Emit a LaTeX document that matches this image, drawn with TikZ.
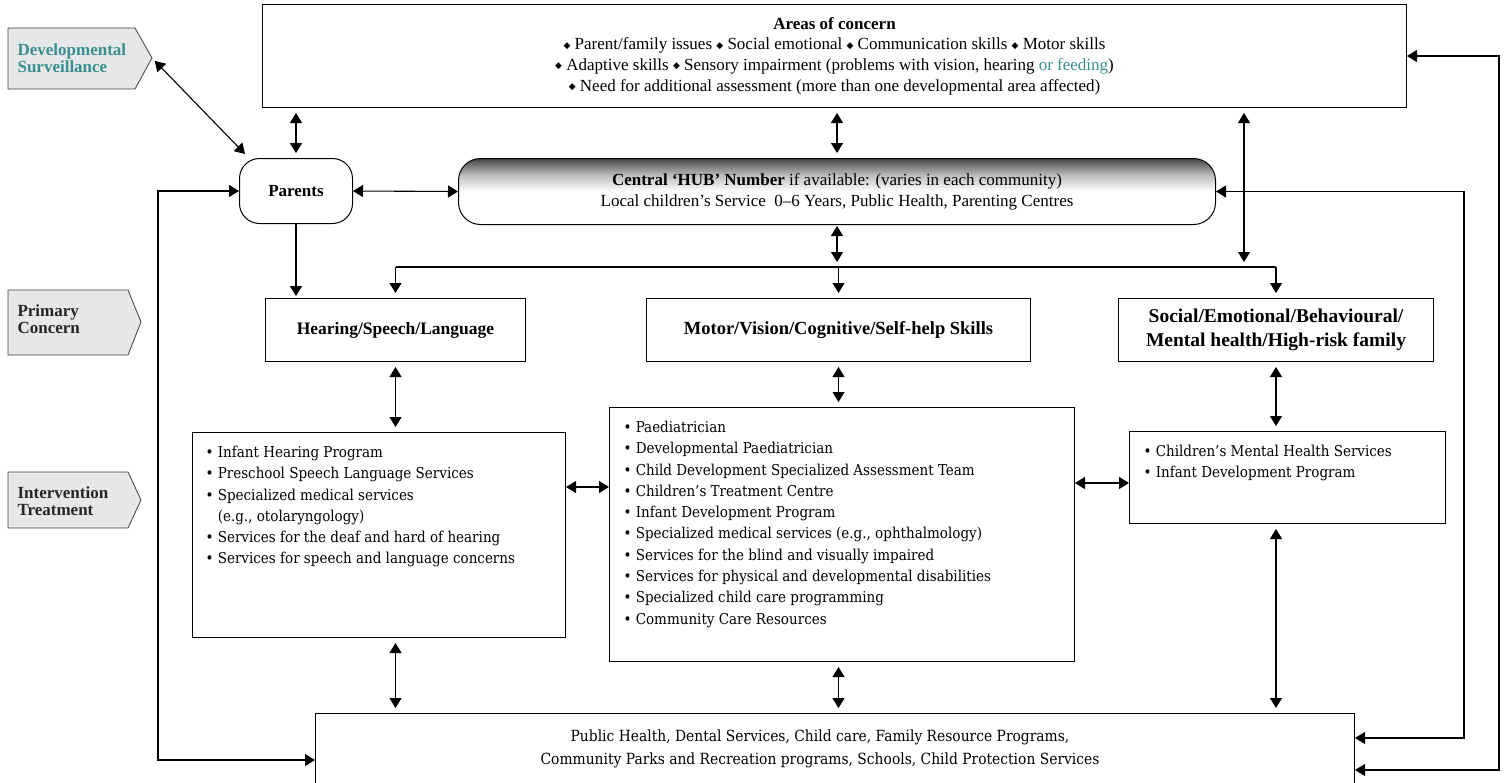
\documentclass[tikz,border=0pt]{standalone}
\usepackage{fontspec}
\setmainfont{Liberation Serif}
\newfontfamily\listfont{DejaVu Serif Condensed}
\newfontfamily\symfont{DejaVu Sans}
\usetikzlibrary{arrows.meta,positioning,calc}

\definecolor{tealtxt}{RGB}{58,143,143}
\definecolor{tagfill}{RGB}{230,231,232}

% shading of the hub box: dark at the top, white from the middle down
\pgfdeclareverticalshading{hubshade}{100bp}{color(0bp)=(white); color(25bp)=(white);
    color(50bp)=(white); color(62bp)=(black!25); color(75bp)=(black!72); color(100bp)=(black!72)}

% small diamond and bullet
\newcommand{\dia}{{\symfont\fontsize{9}{9}\selectfont\raisebox{1.6pt}{◆}}}
\newcommand{\bul}{•}

\begin{document}
\begin{tikzpicture}[x=1pt,y=-1pt,
    >={Triangle[length=10pt,width=12pt]},
    line width=1.1pt,
    box/.style={draw,line width=1pt,inner sep=0pt,anchor=north west},
    bold/.style={font=\fontsize{17}{20}\selectfont\bfseries,align=center},
    toptext/.style={font=\fontsize{17}{20.7}\selectfont,align=center,inner sep=0pt},
    listtext/.style={font=\listfont\fontsize{15}{21.3}\selectfont,inner sep=0pt,anchor=north west},
    tagshape/.style={draw=black!75,line width=0.8pt,fill=tagfill},
    tagtext/.style={font=\fontsize{17}{17}\selectfont\bfseries,align=left,anchor=west,inner sep=0pt},
    gap/.style={shorten <=5pt,shorten >=5pt}]
    \useasboundingbox (0,0) rectangle (1504,782);

    % tags on the left
    \draw[tagshape] (8,28) -- (135,28) -- (152,58) -- (135,89) -- (8,89) -- cycle;
    \node[tagtext,text=tealtxt] (devtag) at (17,58) {Developmental\\Surveillance};
    \draw[tagshape] (8,290) -- (128,290) -- (141,322) -- (128,355) -- (8,355) -- cycle;
    \node[tagtext,text=black!85] (primtag) at (17,319) {Primary\\Concern};
    \draw[tagshape] (8,472) -- (128,472) -- (141,500) -- (128,528) -- (8,528) -- cycle;
    \node[tagtext,text=black!85] (inttag) at (17,501) {Intervention\\Treatment};
    \coordinate (devtip) at (152,58);

    % areas of concern
    \node[box,minimum width=1144pt,minimum height=103pt] (areas) at (262,4) {};
    \node[toptext] (areastext) at (areas.center) {\textbf{Areas of concern}\\
        \dia\ Parent/family issues \dia\ Social emotional \dia\ Communication skills \dia\ Motor skills\\
        \dia\ Adaptive skills \dia\ Sensory impairment (problems with vision, hearing \textcolor{tealtxt}{or feeding})\\
        \dia\ Need for additional assessment (more than one developmental area affected)};

    % parents and hub
    \node[box,rounded corners=20pt,minimum width=113pt,minimum height=65pt,bold] (parents) at (239,158) {Parents};
    \node[box,rounded corners=22pt,minimum width=757pt,minimum height=66pt,
        shading=hubshade,toptext] (hub) at (458,158)
        {\textbf{Central ‘HUB’ Number} if available: (varies in each community)\\
         Local children’s Service\ \ 0–6 Years, Public Health, Parenting Centres};

    % primary concern
    \node[box,minimum width=260pt,minimum height=63pt,bold,font=\fontsize{17.5}{20}\selectfont\bfseries] (hear) at (265,298)
        {Hearing/Speech/Language};
    \node[box,minimum width=384pt,minimum height=63pt,bold,font=\fontsize{18.5}{20}\selectfont\bfseries] (motor) at (646,298)
        {Motor/Vision/Cognitive/Self-help Skills};
    \node[box,minimum width=315pt,minimum height=63pt,bold,font=\fontsize{19.5}{24}\selectfont\bfseries] (social) at (1118,298)
        {Social/Emotional/Behavioural/\\Mental health/High-risk family};

    % intervention lists
    \node[box,minimum width=373pt,minimum height=205pt] (hearlist) at (192,432) {};
    \node[listtext] (heartext) at ($(hearlist.north west)+(13,10)$) {%
        \begin{tabular}{@{}l@{\ }l@{}}
        \bul & Infant Hearing Program\\
        \bul & Preschool Speech Language Services\\
        \bul & Specialized medical services\\
             & (e.g., otolaryngology)\\
        \bul & Services for the deaf and hard of hearing\\
        \bul & Services for speech and language concerns
        \end{tabular}};
    \node[box,minimum width=465pt,minimum height=254pt] (motorlist) at (609,407) {};
    \node[listtext] (motortext) at ($(motorlist.north west)+(14,10)$) {%
        \begin{tabular}{@{}l@{\ }l@{}}
        \bul & Paediatrician\\
        \bul & Developmental Paediatrician\\
        \bul & Child Development Specialized Assessment Team\\
        \bul & Children’s Treatment Centre\\
        \bul & Infant Development Program\\
        \bul & Specialized medical services (e.g., ophthalmology)\\
        \bul & Services for the blind and visually impaired\\
        \bul & Services for physical and developmental disabilities\\
        \bul & Specialized child care programming\\
        \bul & Community Care Resources
        \end{tabular}};
    \node[box,minimum width=316pt,minimum height=92pt] (sociallist) at (1129,431) {};
    \node[listtext] (socialtext) at ($(sociallist.north west)+(14,10)$) {%
        \begin{tabular}{@{}l@{\ }l@{}}
        \bul & Children’s Mental Health Services\\
        \bul & Infant Development Program
        \end{tabular}};

    % community services
    \node[box,minimum width=1039pt,minimum height=100pt] (services) at (315,713) {};
    \node[listtext,anchor=center,align=center,font=\listfont\fontsize{15.4}{23}\selectfont] (servtext) at (820,749)
        {Public Health, Dental Services, Child care, Family Resource Programs,\\
         Community Parks and Recreation programs, Schools, Child Protection Services};

    % connectors
    \coordinate (branch) at (836,267);
    \coordinate (branchR) at (1244,267);
    \coordinate (loopL) at (158,760);
    \coordinate (loopA) at (1499,770);
    \coordinate (loopB) at (1464,738);

    \draw[<->,shorten <=4pt] (devtip) -- ($(parents.north west)+(6,-4)$);
    \draw[<->,gap] (areas.south -| parents) -- (parents.north);
    \draw[<->,gap] (areas.south -| hub) -- (hub.north);
    \draw[<->,gap] (areas.south -| branchR) -- (branchR);
    \draw[<->] (parents.east) -- (hub.west);
    \draw[->,shorten >=2pt] (parents.south) -- (parents.south |- hear.north);
    \draw[<->,shorten <=1pt,shorten >=5pt] (hub.south) -- (hub.south |- branch);
    \draw (hear.north |- branch) -- (social.north |- branch);
    \draw[->,shorten >=5pt] (hear.north |- branch) -- (hear.north);
    \draw[->,shorten >=5pt] (motor.north |- branch) -- (motor.north);
    \draw[->,shorten >=5pt] (social.north |- branch) -- (social.north);

    \draw[<->,gap] (hear.south) -- (hear.south |- hearlist.north);
    \draw[<->,gap] (motor.south) -- (motor.south |- motorlist.north);
    \draw[<->,gap] (social.south) -- (social.south |- sociallist.north);
    \draw[<->] ($(hearlist.north east)+(0,55)$) -- ($(motorlist.north west)+(0,80)$);
    \draw[<->] ($(motorlist.north east)+(0,76)$) -- ($(sociallist.north west)+(0,52)$);

    \draw[<->,gap] (hear |- hearlist.south) -- (hear |- services.north);
    \draw[<->,gap] (motor |- motorlist.south) -- (motor |- services.north);
    \draw[<->,gap] (social |- sociallist.south) -- (social |- services.north);

    \draw[<->] (parents.west) -| (loopL) -- (loopL -| services.west);
    \draw[<->] (areas.east) -| (loopA) -- (loopA -| services.east);
    \draw[<->] (hub.east) -| (loopB) -- (loopB -| services.east);
\end{tikzpicture}
\end{document}
